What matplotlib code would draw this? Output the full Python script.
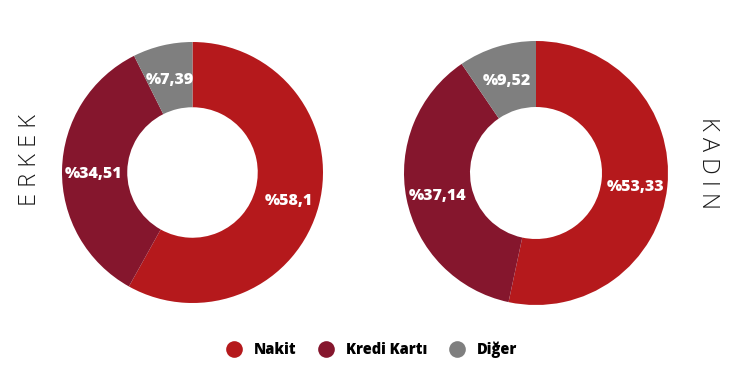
import matplotlib.pyplot as plt
import numpy as np

plt.rcParams['font.family'] = ['Open Sans', 'DejaVu Sans']

categories = ['Nakit', 'Kredi Kartı', 'Diğer']
erkek = [58.1, 34.51, 7.39]
kadin = [53.33, 37.14, 9.52]
erkek_labels = ['%58,1', '%34,51', '%7,39']
kadin_labels = ['%53,33', '%37,14', '%9,52']
colors = ['#B5191C', '#85162D', '#7F7F7F']

fig = plt.figure(figsize=(7.44, 3.87), dpi=100)


def donut(ax, values, labels):
    wedges, _ = ax.pie(values, colors=colors, startangle=90, counterclock=False,
                       radius=1.0, wedgeprops=dict(width=0.5, edgecolor='none'))
    total = sum(values)
    start = 90.0
    for v, lab in zip(values, labels):
        mid = start - v / total * 360 / 2
        start -= v / total * 360
        r = 0.76
        ax.text(r * np.cos(np.radians(mid)), r * np.sin(np.radians(mid)) - 0.03, lab,
                ha='center', va='center', color='white', fontsize=11.5, fontweight='heavy')
    ax.set_aspect('equal')
    ax.set_xlim(-1, 1)
    ax.set_ylim(-1, 1)
    ax.axis('off')
    return wedges


ax1 = fig.add_axes([62 / 744, 84 / 387, 261 / 744, 261 / 387])
ax2 = fig.add_axes([404 / 744, 82 / 387, 264 / 744, 264 / 387])
donut(ax1, erkek, erkek_labels)
donut(ax2, kadin, kadin_labels)

fig.text(30 / 744, 1 - 160 / 387, 'E R K E K', rotation=90, ha='center', va='center',
         fontsize=17, fontweight='light', color='#1a1a1a')
fig.text(708 / 744, 1 - 163 / 387, 'K A D I N', rotation=-90, ha='center', va='center',
         fontsize=17, fontweight='light', color='#1a1a1a')

handles = [plt.Line2D([], [], marker='o', linestyle='none', markersize=12,
                      markerfacecolor=c, markeredgecolor='none') for c in colors]
fig.legend(handles, categories, loc='center', bbox_to_anchor=(0.495, 1 - 350 / 387),
           ncol=3, frameon=False, handletextpad=0.4, columnspacing=1.0,
           prop=dict(weight='heavy', size=10.5))

fig.savefig('out.png', dpi=100)
